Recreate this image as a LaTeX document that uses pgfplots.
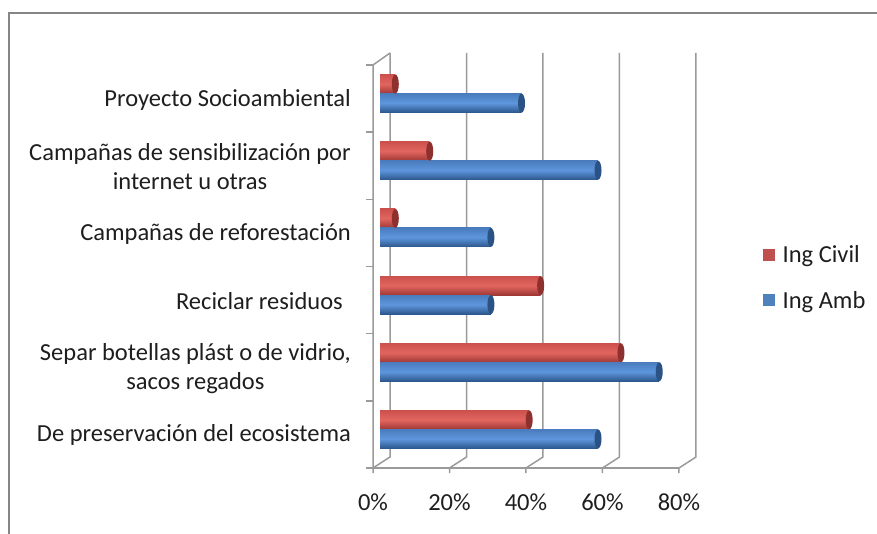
\documentclass[border=0pt]{standalone}
\usepackage{pgfplots}
\pgfplotsset{compat=1.18}
\usepackage{fontspec}
\setmainfont{Carlito}
\usetikzlibrary{shapes.geometric}
\definecolor{gridc}{HTML}{9A9A9A}
\definecolor{framec}{HTML}{868686}
\definecolor{textc}{HTML}{1E1E1E}
\definecolor{redL}{HTML}{CC514D}
\definecolor{redM}{HTML}{E2655F}
\definecolor{redD}{HTML}{9E3835}
\definecolor{redC}{HTML}{8E302D}
\definecolor{redF}{HTML}{C0504D}
\definecolor{bluL}{HTML}{4A7CBE}
\definecolor{bluM}{HTML}{5E96DC}
\definecolor{bluD}{HTML}{2C568C}
\definecolor{bluC}{HTML}{2A5285}
\definecolor{bluF}{HTML}{4F81BD}
\newcommand{\lbl}{\fontsize{24.5bp}{29bp}\selectfont}
\newcommand{\rbar}[2]{\addplot[forget plot, top color=redL, bottom color=redD, middle color=redM, draw=none, bar shift=9.5bp, every node near coord/.append style={fill=redC}] coordinates {(#1,#2)};}
\newcommand{\bbar}[2]{\addplot[forget plot, top color=bluL, bottom color=bluD, middle color=bluM, draw=none, bar shift=-9.5bp, every node near coord/.append style={fill=bluC}] coordinates {(#1,#2)};}
\begin{document}
\begin{tikzpicture}
\path[use as bounding box] (0,0) rectangle (877bp,534bp);
\draw[framec, line width=2bp] (9bp,0) -- (9bp,521bp) -- (877bp,521bp);
\begin{axis}[
  at={(380bp,71bp)}, anchor=south west, scale only axis,
  width=306bp, height=403bp,
  xmin=0, xmax=80, ymin=-0.5, ymax=5.5,
  clip=false,
  axis line style={draw=none},
  major tick length=0pt,
  xtick={0,20,40,60,80},
  xticklabels={0\%,20\%,40\%,60\%,80\%},
  ytick={0,1,2,3,4,5},
  yticklabels={De preservación del ecosistema,{Separ botellas plást o de vidrio,\\sacos regados},Reciclar residuos\hspace*{8bp},Campañas de reforestación,{Campañas de sensibilización por\\internet u otras},Proyecto Socioambiental},
  every tick label/.append style={font=\lbl, text=textc},
  xticklabel style={anchor=center, xshift=-7bp, yshift=-39bp},
  yticklabel style={anchor=east, align=center, inner sep=0pt, xshift=-29bp, yshift=-6bp},
  xbar, bar width=19bp,
  legend style={draw=none, fill=none, at={(axis description cs:1.25,0.46)}, anchor=west,
    inner sep=0pt, row sep=23bp, font=\lbl, text=textc,
    /tikz/every odd column/.append style={column sep=6bp}},
  legend cell align=left,
  legend image code/.code={\fill[#1,draw=none] (0bp,-6bp) rectangle (12bp,6bp);},
  nodes near coords={},
  every node near coord/.append style={anchor=center, shape=ellipse, inner sep=0pt,
    minimum width=7bp, minimum height=19bp},
]
% 3D walls and grid
\pgfplotsinvokeforeach{0,20,40,60,80}{
  \draw[gridc, line width=1.5bp] ([xshift=10bp,yshift=7bp]axis cs:#1,5.5) -- ([xshift=10bp,yshift=6bp]axis cs:#1,-0.5) -- ([xshift=-7bp,yshift=-5bp]axis cs:#1,-0.5) -- ([xshift=-7bp,yshift=-10bp]axis cs:#1,-0.5);
}
\draw[gridc, line width=1.5bp] ([xshift=-7bp,yshift=-5bp]axis cs:0,-0.5) -- ([xshift=-7bp,yshift=-5bp]axis cs:80,-0.5);
\draw[gridc, line width=1.5bp] ([xshift=-7bp,yshift=-5bp]axis cs:0,-0.5) -- ([xshift=-7bp,yshift=-5bp]axis cs:0,5.5) -- ([xshift=10bp,yshift=7bp]axis cs:0,5.5);
\pgfplotsinvokeforeach{-0.5,0.5,1.5,2.5,3.5,4.5,5.5}{
  \draw[gridc, line width=1.5bp] ([xshift=-7bp,yshift=-5bp]axis cs:0,#1) -- ([xshift=-14bp,yshift=-5bp]axis cs:0,#1);
}
% Ing Civil
\rbar{39}{0}
\rbar{63}{1}
\rbar{42}{2}
\rbar{4}{3}
\rbar{13}{4}
\rbar{4}{5}
% Ing Amb
\bbar{57}{0}
\bbar{73}{1}
\bbar{29}{2}
\bbar{29}{3}
\bbar{57}{4}
\bbar{37}{5}
\addlegendimage{fill=redF}
\addlegendentry{Ing Civil}
\addlegendimage{fill=bluF}
\addlegendentry{Ing Amb}
\end{axis}
\end{tikzpicture}
\end{document}
